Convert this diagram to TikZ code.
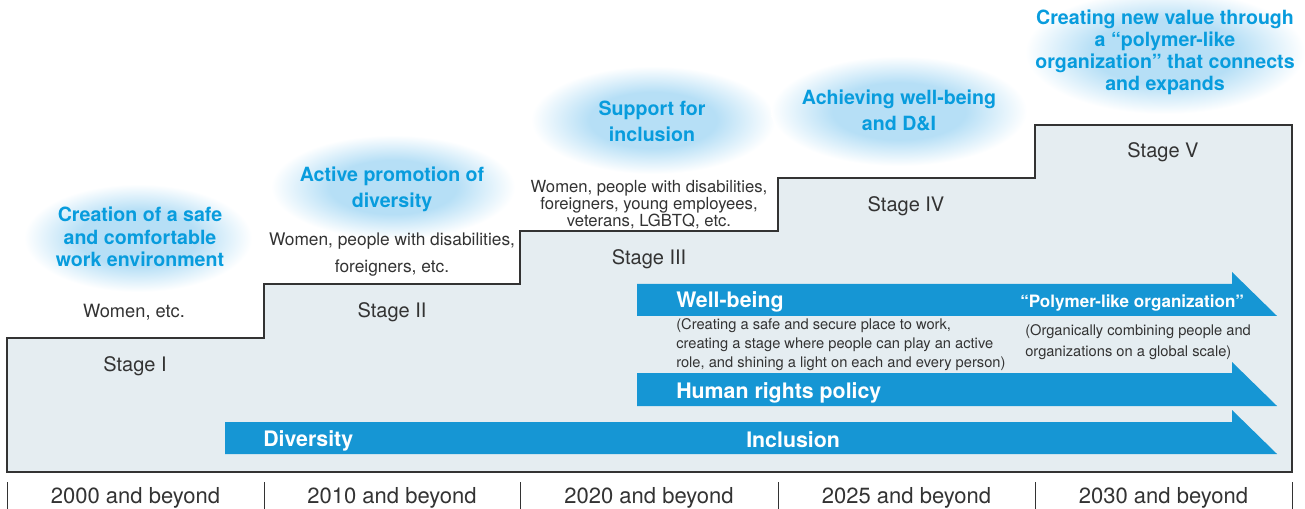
\documentclass[tikz,border=0pt]{standalone}
\usepackage{fontspec}
\setmainfont{TeX Gyre Heros}
\usepackage{xcolor}
\definecolor{pFiveBandBlue}{RGB}{22,150,212}
\definecolor{pFiveHeadBlue}{RGB}{8,156,221}
\definecolor{pFiveHaloBlue}{RGB}{182,223,246}
\definecolor{pFiveStairFill}{RGB}{229,237,241}
\definecolor{pFiveInk}{RGB}{51,51,51}
\pgfdeclareradialshading{pFiveGlow}{\pgfpoint{0cm}{0cm}}{color(0bp)=(pFiveHaloBlue);color(13bp)=(pFiveHaloBlue);color(25bp)=(white);color(50bp)=(white)}
\newcommand{\pFiveHalo}[4]{\shade[shading=pFiveGlow] (#1,#2) ellipse [x radius=#3, y radius=#4];}
\newcommand{\pFiveBand}[4]{\fill[band] (#1,#2) -- (1232,#2) -- (1232,#4) -- (1277,#3) -- (#1,#3) -- cycle;}
\tikzset{
  band/.style={fill=pFiveBandBlue},
  goal/.style={text=pFiveHeadBlue, font=\bfseries\fontsize{14.7}{#1}\selectfont, align=center, anchor=base, inner sep=0pt},
  who/.style 2 args={text=pFiveInk, font=\fontsize{#1}{#2}\selectfont, align=center, anchor=base, inner sep=0pt},
  stage/.style={text=pFiveInk, font=\fontsize{15}{15}\selectfont, anchor=base, inner sep=0pt},
  bandlabel/.style={text=white, font=\bfseries\fontsize{#1}{#1}\selectfont, anchor=base west, inner sep=0pt},
  bandlabel/.default=16,
  note/.style={text=pFiveInk, font=\fontsize{11}{#1}\selectfont, align=left, anchor=base west, inner sep=0pt},
  era/.style={text=pFiveInk, font=\fontsize{16.5}{16.5}\selectfont, anchor=base, inner sep=0pt},
  tick/.style={draw=pFiveInk, line width=0.6pt}
}

\begin{document}
\begin{tikzpicture}[x=0.75pt,y=-0.75pt]
\fill[white] (0,0) rectangle (1305,509);
\useasboundingbox (0,0) rectangle (1305,509);
\pFiveHalo{138}{238}{114}{54}
\pFiveHalo{393}{187}{122}{52}
\pFiveHalo{653}{120}{122}{54}
\pFiveHalo{899}{111}{128}{55}
\pFiveHalo{1165}{52}{140}{62}
\filldraw[fill=pFiveStairFill, draw=pFiveInk, line width=1.1pt] (7,472) -- (7,338) -- (264,338) -- (264,284) -- (520,284) -- (520,231) -- (778,231) -- (778,178) -- (1035,178) -- (1035,125) -- (1292,125) -- (1292,472) -- cycle;
\pFiveBand{637}{284}{316}{272}
\pFiveBand{637}{373}{406}{362}
\pFiveBand{225}{422}{454}{410}
\node[goal=16.9] (goalI) at (140,267) {Creation of a safe\\and comfortable\\work environment};
\node[goal=19.5] (goalII) at (392,208) {Active promotion of\\diversity};
\node[goal=19.5] (goalIII) at (652,142) {Support for\\inclusion};
\node[goal=19.5] (goalIV) at (899,131) {Achieving well-being\\and D\&I};
\node[goal=16.5] (goalV) at (1165,91) {Creating new value through\\a “polymer-like\\organization” that connects\\and expands};
\node[who={13.7}{20}] (whoI) at (134,317) {Women, etc.};
\node[who={13}{20.3}] (whoII) at (392,273) {Women, people with disabilities,\\foreigners, etc.};
\node[who={12.5}{13.1}] (whoIII) at (649,227) {Women, people with disabilities,\\foreigners, young employees,\\veterans, LGBTQ, etc.};
\node[stage] (stageI) at (135,371) {Stage I};
\node[stage] (stageII) at (392,317) {Stage II};
\node[stage] (stageIII) at (649,265) {Stage III};
\node[stage] (stageIV) at (906,212) {Stage IV};
\node[stage] (stageV) at (1163,158) {Stage V};
\node[bandlabel] (wellbeing) at (676,307) {Well-being};
\node[bandlabel=12.8] (polymer) at (1020,307) {“Polymer-like organization”};
\node[bandlabel] (rights) at (676,398) {Human rights policy};
\node[bandlabel] (diversity) at (263,446) {Diversity};
\node[bandlabel] (inclusion) at (746,447) {Inclusion};
\node[note=13.9] (wellnote) at (676,367) {(Creating a safe and secure place to work,\\creating a stage where people can play an active\\role, and shining a light on each and every person)};
\node[note=15.75] (polynote) at (1025,356) {(Organically combining people and\\organizations on a global scale)};
\foreach \x in {7,264,520,778,1035,1292} \draw[tick] (\x,482) -- (\x,509);
\node[era] (eraI) at (135.5,503) {2000 and beyond};
\node[era] (eraII) at (392,503) {2010 and beyond};
\node[era] (eraIII) at (649,503) {2020 and beyond};
\node[era] (eraIV) at (906.5,503) {2025 and beyond};
\node[era] (eraV) at (1163.5,503) {2030 and beyond};
\end{tikzpicture}
\end{document}
